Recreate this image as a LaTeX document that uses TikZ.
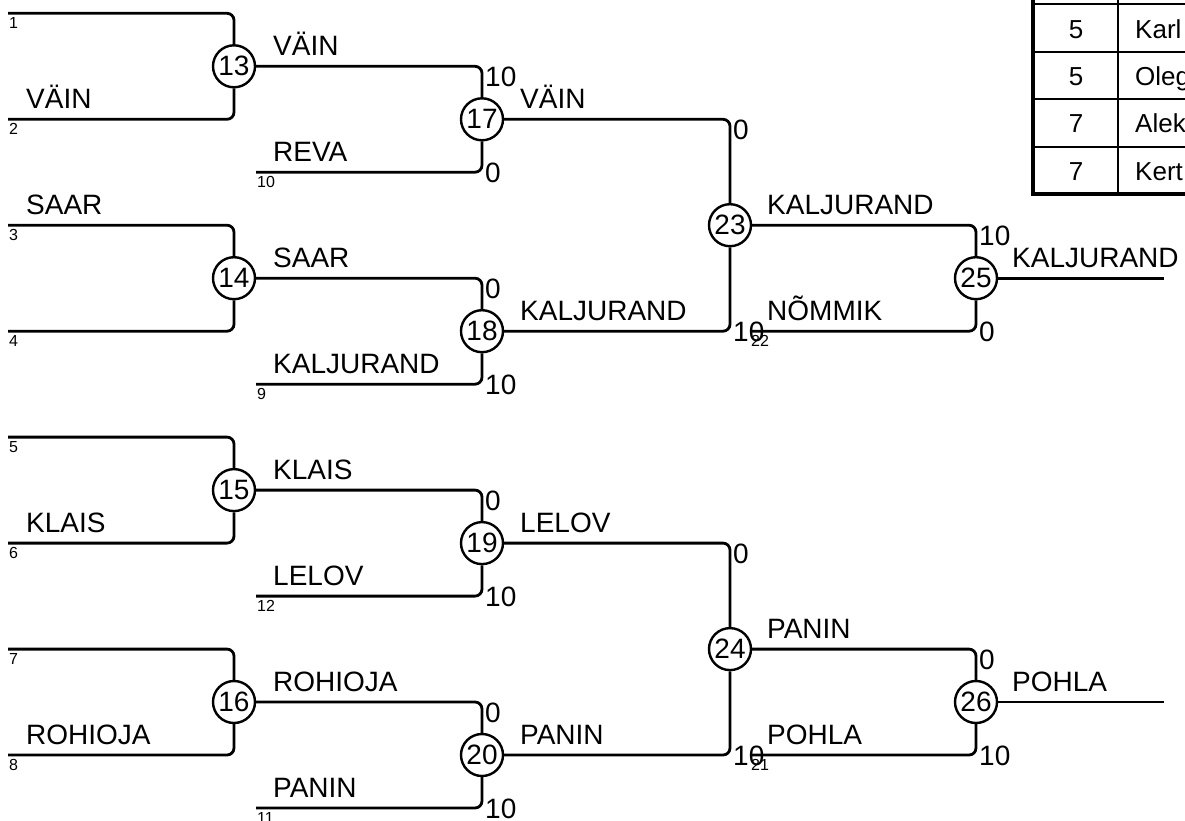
\documentclass[tikz,border=0pt]{standalone}
\usepackage{fontspec}
\setmainfont{Liberation Sans}
\begin{document}
\begin{tikzpicture}[x=1pt,y=-1pt,
  wire/.style={line width=2.8pt, rounded corners=7pt},
  game/.style={circle, draw, line width=2.4pt, fill=white, minimum size=42pt, inner sep=0pt, font=\fontsize{28}{30}\selectfont},
  pname/.style={anchor=base west, inner sep=0pt, font=\fontsize{28}{30}\selectfont},
  seedno/.style={anchor=base west, inner sep=0pt, font=\fontsize{16}{18}\selectfont},
  score/.style={anchor=base west, inner sep=0pt, font=\fontsize{28}{30}\selectfont},
  tabnum/.style={anchor=base, inner sep=0pt, font=\fontsize{26}{28}\selectfont},
  tabname/.style={anchor=base west, inner sep=0pt, font=\fontsize{26}{28}\selectfont}]
\useasboundingbox (0,0) rectangle (1185,821);

% games
\node[game] (c13) at (234,66.3) {13};
\node[game] (c14) at (234,278.2) {14};
\node[game] (c15) at (234,490.1) {15};
\node[game] (c16) at (234,702.0) {16};
\node[game] (c17) at (482,119.3) {17};
\node[game] (c18) at (482,331.2) {18};
\node[game] (c19) at (482,543.1) {19};
\node[game] (c20) at (482,755.0) {20};
\node[game] (c23) at (730,225.2) {23};
\node[game] (c24) at (730,649.1) {24};
\node[game] (c25) at (976,278.2) {25};
\node[game] (c26) at (976,702.0) {26};

% line ends
\coordinate (s1) at (8,13.3);
\coordinate (s2) at (8,119.3);
\coordinate (s3) at (8,225.2);
\coordinate (s4) at (8,331.2);
\coordinate (s5) at (8,437.1);
\coordinate (s6) at (8,543.1);
\coordinate (s7) at (8,649.1);
\coordinate (s8) at (8,755.0);
\coordinate (s10) at (256,172.2);
\coordinate (s9) at (256,384.2);
\coordinate (s12) at (256,596.1);
\coordinate (s11) at (256,808.0);
\coordinate (s22) at (750,331.2);
\coordinate (s21) at (750,755.0);
\coordinate (f25) at (1164,278.2);
\coordinate (f26) at (1164,702.0);

% wires
\draw[wire] (s1) -| (c13);
\draw[wire] (s2) -| (c13);
\draw[wire] (s3) -| (c14);
\draw[wire] (s4) -| (c14);
\draw[wire] (s5) -| (c15);
\draw[wire] (s6) -| (c15);
\draw[wire] (s7) -| (c16);
\draw[wire] (s8) -| (c16);
\draw[wire] (c13) -| (c17);
\draw[wire] (s10) -| (c17);
\draw[wire] (c14) -| (c18);
\draw[wire] (s9) -| (c18);
\draw[wire] (c15) -| (c19);
\draw[wire] (s12) -| (c19);
\draw[wire] (c16) -| (c20);
\draw[wire] (s11) -| (c20);
\draw[wire] (c17) -| (c23);
\draw[wire] (c18) -| (c23);
\draw[wire] (c19) -| (c24);
\draw[wire] (c20) -| (c24);
\draw[wire] (c23) -| (c25);
\draw[wire] (s22) -| (c25);
\draw[wire] (c24) -| (c26);
\draw[wire] (s21) -| (c26);
\draw[wire] (c25) -- (f25);
\draw[wire] (c26) -- (f26);

% player names
\node[pname] (n2) at (26,108.3) {VÄIN};
\node[pname] (n3) at (26,214.2) {SAAR};
\node[pname] (n6) at (26,532.1) {KLAIS};
\node[pname] (n8) at (26,744.0) {ROHIOJA};
\node[pname] (n13) at (273,55.3) {VÄIN};
\node[pname] (n14) at (273,267.2) {SAAR};
\node[pname] (n15) at (273,479.1) {KLAIS};
\node[pname] (n16) at (273,691.0) {ROHIOJA};
\node[pname] (n10) at (273,161.2) {REVA};
\node[pname] (n9) at (273,373.2) {KALJURAND};
\node[pname] (n12) at (273,585.1) {LELOV};
\node[pname] (n11) at (273,797.0) {PANIN};
\node[pname] (n17) at (520,108.3) {VÄIN};
\node[pname] (n18) at (520,320.2) {KALJURAND};
\node[pname] (n19) at (520,532.1) {LELOV};
\node[pname] (n20) at (520,744.0) {PANIN};
\node[pname] (n23) at (767,214.2) {KALJURAND};
\node[pname] (n24) at (767,638.1) {PANIN};
\node[pname] (n22) at (767,320.2) {NÕMMIK};
\node[pname] (n21) at (767,744.0) {POHLA};
\node[pname] (n25) at (1012,267.2) {KALJURAND};
\node[pname] (n26) at (1012,691.0) {POHLA};

% seed numbers
\node[seedno] (q1) at (9,28.3) {1};
\node[seedno] (q2) at (9,134.3) {2};
\node[seedno] (q3) at (9,240.2) {3};
\node[seedno] (q4) at (9,346.2) {4};
\node[seedno] (q5) at (9,452.1) {5};
\node[seedno] (q6) at (9,558.1) {6};
\node[seedno] (q7) at (9,664.1) {7};
\node[seedno] (q8) at (9,770.0) {8};
\node[seedno] (q10) at (257,187.2) {10};
\node[seedno] (q9) at (257,399.2) {9};
\node[seedno] (q12) at (257,611.1) {12};
\node[seedno] (q11) at (257,823.0) {11};
\node[seedno] (q22) at (751,346.2) {22};
\node[seedno] (q21) at (751,770.0) {21};

% scores
\node[score] (p17a) at (485,86.3) {10};
\node[score] (p17b) at (485,182.2) {0};
\node[score] (p18a) at (485,298.2) {0};
\node[score] (p18b) at (485,394.2) {10};
\node[score] (p19a) at (485,510.1) {0};
\node[score] (p19b) at (485,606.1) {10};
\node[score] (p20a) at (485,722.0) {0};
\node[score] (p20b) at (485,818.0) {10};
\node[score] (p23a) at (733,139.3) {0};
\node[score] (p23b) at (733,341.2) {10};
\node[score] (p24a) at (733,563.1) {0};
\node[score] (p24b) at (733,765.0) {10};
\node[score] (p25a) at (979,245.2) {10};
\node[score] (p25b) at (979,341.2) {0};
\node[score] (p26a) at (979,669.1) {0};
\node[score] (p26b) at (979,765.0) {10};

% table (cut by the picture edge)
\begin{scope}
\clip (0,0) rectangle (1185,821);
\fill[white] (1033,-5) rectangle (1190,194);
\foreach \yy in {4,52,99,147}
  \draw[line width=1.8pt] (1033,\yy) -- (1190,\yy);
\draw[line width=1.8pt] (1118,-5) -- (1118,194);
\draw[line width=4.5pt] (1033,-5) -- (1033,194) -- (1190,194);
\node[tabnum] (t1n) at (1076,38.5) {5};
\node[tabname] (t1s) at (1135,38.5) {Karl};
\node[tabnum] (t2n) at (1076,86) {5};
\node[tabname] (t2s) at (1135,86) {Oleg};
\node[tabnum] (t3n) at (1076,133) {7};
\node[tabname] (t3s) at (1135,133) {Alek};
\node[tabnum] (t4n) at (1076,181) {7};
\node[tabname] (t4s) at (1135,181) {Kert};
\end{scope}
\end{tikzpicture}
\end{document}
